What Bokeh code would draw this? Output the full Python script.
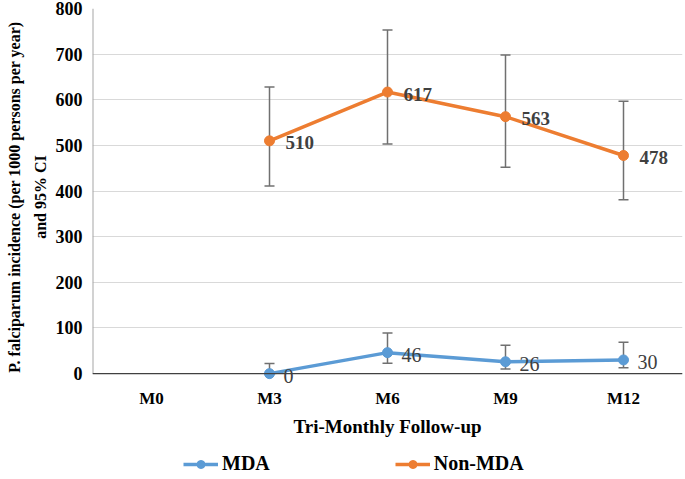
from bokeh.plotting import figure
from bokeh.layouts import column
from bokeh.models import (ColumnDataSource, FactorRange, Range1d, Whisker, TeeHead,
                          Legend, LegendItem, LabelSet, Title, Span)
from bokeh.core.properties import value
from bokeh.embed import file_html
from bokeh.resources import INLINE

categories = ["M0", "M3", "M6", "M9", "M12"]
periods = ["M3", "M6", "M9", "M12"]
mda = [0, 46, 26, 30]
mda_lo = [0, 23, 10, 13]
mda_hi = [22, 89, 62, 69]
non_mda = [510, 617, 563, 478]
non_mda_lo = [411, 503, 452, 381]
non_mda_hi = [628, 753, 698, 597]
y_ticks = [0, 100, 200, 300, 400, 500, 600, 700, 800]
y_min, y_max = 0, 800
y_title = ["P. falciparum incidence (per 1000 persons per year)", "and 95% CI"]
series_names = ["MDA", "Non-MDA"]

FONT = "Liberation Serif"
BLUE = "#5B9BD5"
ORANGE = "#ED7D31"

W = 685
p = figure(width=W, height=445, x_range=FactorRange(*categories, range_padding=0),
           y_range=Range1d(y_min - 26, y_max), output_backend="svg", toolbar_location=None,
           min_border_left=89, min_border_right=3, min_border_top=8, min_border_bottom=60)
p.outline_line_color = None
p.background_fill_color = "white"
p.border_fill_color = "white"

p.xgrid.grid_line_color = None
p.ygrid.grid_line_color = "#D9D9D9"
p.ygrid.grid_line_width = 1
p.yaxis.ticker = y_ticks

for ax in (p.xaxis, p.yaxis):
    ax.major_tick_line_color = None
    ax.minor_tick_line_color = None
    ax.axis_line_color = None
    ax.major_label_text_font = FONT
    ax.major_label_text_font_style = "bold"
    ax.major_label_text_color = "#000000"
    ax.major_label_text_font_size = "17px"
    ax.axis_label_text_font = FONT
    ax.axis_label_text_font_style = "bold"
    ax.axis_label_text_color = "#000000"

p.yaxis.major_label_text_font_size = "18px"
p.yaxis.major_label_standoff = 4

p.xaxis.major_label_standoff = -3
p.xaxis.axis_label = "Tri-Monthly Follow-up"
p.xaxis.axis_label_text_font_size = "19px"
p.xaxis.axis_label_standoff = 5

# axis lines drawn at the data origin
p.add_layout(Span(location=y_min, dimension="width", line_color="#404040", line_width=1.2))
p.segment(x0=[0], y0=[y_min], x1=[0], y1=[y_max], line_color="#A6A6A6", line_width=2)

# y-axis title (two lines, outer line added last)
p.add_layout(Title(text=y_title[1], align="center", text_font=FONT, text_font_style="bold",
                   text_font_size="16px", text_color="#000000", standoff=8), "left")
p.add_layout(Title(text=y_title[0], align="center", text_font=FONT, text_font_style="bold",
                   text_font_size="16px", text_color="#000000", standoff=6), "left")

src_mda = ColumnDataSource(dict(x=periods, y=mda, lo=mda_lo, hi=mda_hi,
                                lab=[str(v) for v in mda]))
src_non = ColumnDataSource(dict(x=periods, y=non_mda, lo=non_mda_lo, hi=non_mda_hi,
                                lab=[str(v) for v in non_mda]))

for src in (src_non, src_mda):
    w = Whisker(source=src, base="x", upper="hi", lower="lo",
                line_color="#707070", line_width=1.5,
                upper_head=TeeHead(size=10, line_color="#707070", line_width=1.5),
                lower_head=TeeHead(size=10, line_color="#707070", line_width=1.5))
    p.add_layout(w)

p.line("x", "y", source=src_non, line_color=ORANGE, line_width=3.5)
p.scatter("x", "y", source=src_non, size=10, color=ORANGE)
p.line("x", "y", source=src_mda, line_color=BLUE, line_width=3.5)
p.scatter("x", "y", source=src_mda, size=10, color=BLUE)

p.add_layout(LabelSet(source=src_non, x="x", y="y", text="lab", x_offset=16, y_offset=-2,
                      text_font=value(FONT), text_font_style="bold", text_font_size="19px",
                      text_color="#404040", text_baseline="middle", text_align="left"))
p.add_layout(LabelSet(source=src_mda, x="x", y="y", text="lab", x_offset=14, y_offset=-2,
                      text_font=value(FONT), text_font_size="20px",
                      text_color="#404040", text_baseline="middle", text_align="left"))

# legend strip below the chart (its renderers hold a point outside the visible range)
q = figure(width=W, height=34, x_range=Range1d(0, 1), y_range=Range1d(0, 1),
           output_backend="svg", toolbar_location=None,
           min_border_left=0, min_border_right=0, min_border_top=0, min_border_bottom=0)
q.axis.visible = False
q.grid.visible = False
q.outline_line_color = None
off = ColumnDataSource(dict(x=[-10, -9], y=[-10, -10]))
lm = q.line("x", "y", source=off, line_color=BLUE, line_width=3.5)
sm = q.scatter("x", "y", source=off, size=10, color=BLUE)
ln = q.line("x", "y", source=off, line_color=ORANGE, line_width=3.5)
sn = q.scatter("x", "y", source=off, size=10, color=ORANGE)
legend = Legend(items=[LegendItem(label=series_names[0], renderers=[lm, sm]),
                       LegendItem(label=series_names[1], renderers=[ln, sn])],
                orientation="horizontal", location=(91, 4), spacing=125,
                label_text_font=FONT, label_text_font_style="bold",
                label_text_font_size="20px", label_text_color="#000000",
                glyph_width=35, glyph_height=20, label_standoff=4, label_height=20,
                padding=0, margin=0, border_line_color=None,
                background_fill_alpha=0)
q.add_layout(legend, "center")

open("out.html", "w").write(file_html(column(p, q), INLINE))
